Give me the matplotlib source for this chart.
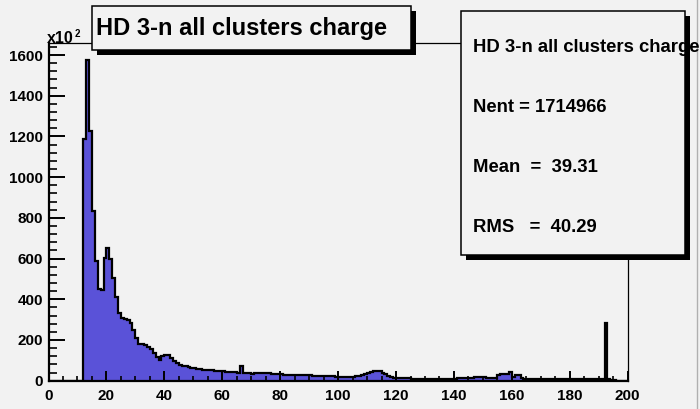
import numpy as np
import matplotlib
matplotlib.use("Agg")
import matplotlib.pyplot as plt
from matplotlib.patches import Rectangle
from matplotlib.lines import Line2D

plt.rcParams['font.family'] = ['Liberation Sans', 'DejaVu Sans']
plt.rcParams['font.weight'] = 'bold'

# histogram: 200 bins of width 1 from 0 to 200, contents in units of 10^2
bin_edges = np.arange(0, 201, 1)
counts = np.zeros(200)
counts[12:31] = [1187, 1575, 1228, 835, 589, 452, 445, 601, 651, 598,
                 503, 413, 334, 310, 305, 300, 282, 249, 208]
counts[31:66] = [180, 178, 176, 168, 154, 134, 115, 104, 120, 127,
                 124, 110, 95, 85, 78, 74, 70, 67, 64, 61,
                 59, 57, 55, 54, 52, 51, 50, 49, 48, 47,
                 45, 43, 42, 41, 40]
counts[66:105] = [74, 37, 36, 36, 35, 36, 36, 37, 37, 37,
                  36, 34, 33, 32, 31, 30, 30, 29, 29, 28,
                  28, 27, 27, 26, 26, 25, 25, 24, 24, 23,
                  23, 22, 21, 20, 19, 18, 18, 19, 19]
counts[105:122] = [20, 22, 25, 28, 32, 38, 43, 47, 49, 47,
                   40, 32, 23, 18, 15, 13, 12]
counts[122:155] = [11, 11, 11, 10, 10, 10, 10, 10, 9, 10,
                   9, 9, 10, 9, 9, 9, 10, 9, 10, 11,
                   11, 12, 13, 14, 15, 16, 17, 17, 16, 15,
                   14, 13, 13]
counts[155:164] = [30, 33, 33, 33, 44, 20, 28, 28, 12]
counts[164:200] = [9, 8, 8, 8, 7, 7, 7, 7, 7, 6,
                   6, 6, 6, 6, 6, 6, 6, 6, 7, 7,
                   8, 9, 10, 10, 9, 8, 7, 7, 285, 10,
                   5, 2, 0, 0, 0, 0]

hist_title = "HD 3-n all clusters charge"
n_entries = 1714966
mean_val = 39.31
rms_val = 40.29

W, H = 700, 409
bg = '#f2f2f2'
fig = plt.figure(figsize=(W / 100, H / 100), dpi=100, facecolor=bg)


def fx(px):
    return px / W


def fy(py):
    return 1 - py / H


left, right, top, bottom = 48.5, 627.7, 43.0, 380.7
ax = fig.add_axes([fx(left), fy(bottom), fx(right - left), (bottom - top) / H])
ax.set_facecolor(bg)

ax.stairs(counts, bin_edges, fill=True, color='#5a52d8', lw=0)
ax.stairs(counts, bin_edges, color='black', lw=1.6, baseline=0)

ax.set_xlim(0, 200)
ax.set_ylim(0, 1659)
ax.set_xticks(np.arange(0, 201, 20))
ax.set_xticks(np.arange(0, 201, 5), minor=True)
ax.set_yticks(np.arange(0, 1601, 200))
ax.set_yticks(np.arange(0, 1659, 40), minor=True)

ax.tick_params(axis='both', which='both', direction='in', colors='black',
               labelsize=11, top=False, right=False)
ax.tick_params(axis='x', which='major', length=7.2, width=1.4, pad=6)
ax.tick_params(axis='x', which='minor', length=3.6, width=1.2)
ax.tick_params(axis='y', which='major', length=11.5, width=1.4, pad=4)
ax.tick_params(axis='y', which='minor', length=5.8, width=1.2)
for lab in ax.get_xticklabels() + ax.get_yticklabels():
    lab.set_fontweight('bold')

ax.spines['left'].set_linewidth(1.6)
ax.spines['bottom'].set_linewidth(1.6)
ax.spines['top'].set_linewidth(0.9)
ax.spines['right'].set_linewidth(0.9)

# axis multiplier
fig.text(fx(47), fy(43), "x10", fontsize=11.5, fontweight='bold', va='baseline', ha='left')
fig.text(fx(74.5), fy(37), "2", fontsize=7, fontweight='bold', va='baseline', ha='left')


def shadow_box(x0, y0, x1, y1, off=5):
    sh = Rectangle((fx(x0 + off), fy(y1 + off)), fx(x1 - x0), (y1 - y0) / H,
                   transform=fig.transFigure, facecolor='black', edgecolor='none', zorder=10)
    box = Rectangle((fx(x0), fy(y1)), fx(x1 - x0), (y1 - y0) / H,
                    transform=fig.transFigure, facecolor=bg, edgecolor='black',
                    lw=1.1, zorder=11)
    fig.add_artist(sh)
    fig.add_artist(box)


# title box
shadow_box(92, 6, 411, 50)
fig.text(fx(96), fy(29), hist_title, fontsize=17, fontweight='bold',
         va='center', ha='left', zorder=12)

# statistics box
shadow_box(461, 11, 685, 255)
stat_lines = [
    (47, hist_title),
    (107, f"Nent = {n_entries}"),
    (167, f"Mean  =  {mean_val:.2f}"),
    (228, f"RMS   =  {rms_val:.2f}"),
]
for py, txt in stat_lines:
    fig.text(fx(473), fy(py), txt, fontsize=13.3, fontweight='bold',
             va='center', ha='left', zorder=12)

# canvas border
fig.add_artist(Line2D([fx(696.5), fx(696.5)], [0, 1], transform=fig.transFigure,
                      color='#b0b0b0', lw=1.0))

fig.savefig("out.png", dpi=100, facecolor=bg)
